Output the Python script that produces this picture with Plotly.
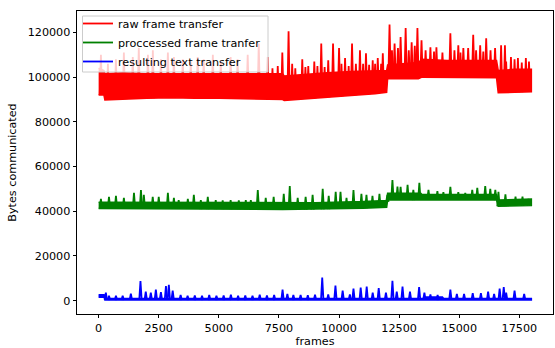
import numpy as np
import plotly.graph_objects as go

# ---------------- data ----------------
# raw frame transfer: band envelope (frames -> bytes) and spikes
red_env_x = [0, 220, 260, 1000, 2000, 3000, 4000, 5000, 6000, 7000, 7650, 7720, 8500, 9500,
             10500, 11500, 11980, 12020, 12600, 13300, 13450, 14500, 15500, 16550, 16620, 17300, 17999]
red_low = [92000, 92000, 89800, 90200, 90500, 90800, 90600, 90500, 90300, 90200, 90000, 89600, 90200, 91000,
           91800, 92600, 93200, 99300, 99300, 99300, 100000, 99800, 99700, 99700, 93000, 93200, 93400]
red_high = [104000, 103000, 101500, 102000, 101500, 101500, 101200, 101200, 101300, 101500, 101500, 100500, 101200, 102000,
            102500, 103000, 103000, 105500, 106000, 106500, 108000, 107500, 107500, 107500, 103000, 103500, 103500]
red_spike_x = [95, 386, 718, 1050, 1420, 1670, 2050, 2255, 2590, 2880, 3130, 3500, 3830, 4120, 4370, 4750,
               5080, 5490, 5780, 6200, 6660, 7030,
               7230, 7450, 7640, 7900, 8050, 8180, 8470, 8600, 8720, 8970, 9100, 9260, 9400, 9550, 9750, 10000,
               10100, 10250, 10400, 10540, 10700, 10870, 11000, 11120, 11250, 11400, 11500, 11610, 11750, 11820,
               12100, 12200, 12310, 12450, 12560, 12770, 12900, 13020, 13150, 13260, 13430, 13600, 13800, 13950,
               14050, 14300, 14630, 14800, 14960, 15050, 15170, 15370, 15580, 15700, 15870, 16000, 16120, 16300,
               16490, 16740, 16900, 16950, 17150, 17300, 17440, 17600, 17770, 17900]
red_spike_y = [110000, 106000, 108000, 111000, 109000, 113000, 110000, 112000, 108000, 111000, 109000, 108000,
               107000, 109000, 108000, 110000, 107000, 109000, 108000, 110000, 115000, 109000,
               104000, 105000, 111000, 120500, 106000, 104000, 108000, 104500, 105000, 107000, 105000, 115000,
               104500, 107600, 115000, 113000, 106000, 108500, 105000, 115000, 106000, 112000, 106000, 110700,
               105500, 107600, 106000, 108500, 106000, 110700,
               123500, 112000, 115000, 113000, 118000, 122000, 112000, 115600, 114000, 122000, 116500, 112000,
               113400, 111500, 113400, 111000, 119600, 112000, 114300, 111000, 113000, 113000, 119000, 112000,
               114300, 111500, 117400, 112000, 113000, 114300, 114300, 107000, 109000, 108000, 108500, 106500,
               108500, 107000]

# proccessed frame tranfer
green_env_x = [0, 7650, 7720, 9000, 11000, 11980, 12020, 13400, 13450, 16550, 16620, 17999]
green_low = [41200, 40800, 40600, 40800, 41300, 41800, 45000, 45000, 45300, 45000, 42200, 42500]
green_high = [44000, 43800, 43600, 43800, 44300, 44800, 48000, 48000, 47500, 47500, 45000, 45500]
green_spike_x = [95, 430, 720, 1050, 1470, 1760, 1880, 2250, 2500, 2880, 3130, 3330, 3710, 3960, 4250, 4540,
                 4870, 5160, 5490, 5830, 6120, 6330, 6620, 6950, 7280, 7700, 7950, 8280, 8610, 8900, 9320,
                 9570, 9860, 10060, 10310, 10600, 10930, 11140, 11390, 11680, 12010, 12220, 12430, 12560,
                 12850, 13090, 13340, 13720, 14090, 14340, 14630, 14960, 15250, 15540, 15750, 16080, 16290,
                 16500, 16630, 16920, 17340, 17630, 17880]
green_spike_y = [45500, 46400, 46900, 46000, 48200, 49500, 47300, 46400, 46400, 48200, 46000, 45000, 45500,
                 47300, 45000, 46400, 45000, 44800, 45000, 44800, 45000, 45000, 49500, 46000, 46400, 47800,
                 51300, 46000, 46400, 47300, 50000, 46900, 48700, 48700, 46000, 49500, 47800, 47300, 46900,
                 47800, 47300, 54000, 51000, 50900, 51800, 49500, 52700, 49500, 49000, 48500, 50900, 48500,
                 48200, 49500, 50500, 51300, 50000, 49500, 48700, 47500, 46500, 46500, 45500]

# resulting text transfer
blue_env_x = [0, 230, 260, 13500, 13550, 14300, 14350, 17999]
blue_low = [1500, 1500, 300, 300, 300, 300, 300, 300]
blue_high = [2600, 2600, 900, 900, 1600, 1600, 900, 900]
blue_spike_x = [300, 430, 720, 1000, 1340, 1740, 1960, 2170, 2380, 2590, 2800, 2920, 3080, 3410, 3700, 4000,
                4300, 4600, 4900, 5200, 5500, 5800, 6100, 6400, 6700, 7000, 7300, 7650, 7850, 8100, 8400,
                8700, 9000, 9300, 9550, 9850, 10150, 10450, 10600, 10900, 11150, 11400, 11650, 11950, 12220,
                12400, 12640, 12950, 13330, 13550, 13800, 14100, 14630, 14900, 15200, 15560, 15900, 16200,
                16450, 16680, 16850, 16950, 17300, 17700]
blue_spike_y = [3600, 2200, 2200, 2200, 3100, 8700, 4000, 3500, 4900, 3800, 6500, 7100, 4500, 2500, 2200, 2300,
                2200, 2500, 2200, 2300, 2600, 2200, 2300, 2200, 2600, 2300, 2500, 4900, 3000, 2500, 2500,
                2400, 2600, 10300, 2700, 6700, 4500, 2800, 5400, 5800, 6300, 3500, 5600, 3500, 8900,
                4000, 6300, 4000, 6000, 3500, 2800, 2500, 4900, 3000, 3000, 3300, 3300, 4000,
                3000, 5400, 6000, 3500, 4500, 3000]

series = [
    ("raw frame transfer", "#ff0000", red_env_x, red_low, red_high, red_spike_x, red_spike_y),
    ("proccessed frame tranfer", "#008000", green_env_x, green_low, green_high, green_spike_x, green_spike_y),
    ("resulting text transfer", "#0000ff", blue_env_x, blue_low, blue_high, blue_spike_x, blue_spike_y),
]

x_ticks = [0, 2500, 5000, 7500, 10000, 12500, 15000, 17500]
y_ticks = [0, 20000, 40000, 60000, 80000, 100000, 120000]

FONT = "DejaVu Sans"
FS = 11.2

# plot area geometry in pixels
W, H = 555, 348
ML, MR, MT, MB = 77, 2, 11, 34
PW, PH = W - ML - MR, H - MT - MB


def px2paper_x(px):
    return (px - ML) / PW


def py2paper_y(py):
    return 1 - (py - MT) / PH


fig = go.Figure()
for name, color, ex, lo, hi, sx, sy in series:
    # dense band drawn as filled envelope
    fig.add_trace(go.Scatter(
        x=list(ex) + list(ex)[::-1], y=list(hi) + list(lo)[::-1],
        mode="lines", fill="toself", fillcolor=color,
        line=dict(color=color, width=1.5), showlegend=False, hoverinfo="skip",
        legendgroup=name))
    # spikes
    xs, ys = [], []
    for f, v in zip(sx, sy):
        b = float(np.interp(f, ex, lo))
        xs += [f - 50, f, f + 50, None]
        ys += [b, v, b, None]
    fig.add_trace(go.Scatter(x=xs, y=ys, mode="lines", name=name,
                             line=dict(color=color, width=1.8), legendgroup=name))

axis_common = dict(showgrid=False, zeroline=False, showline=True, linecolor="black", linewidth=0.8,
                   mirror=True, ticks="outside", ticklen=3.5, tickwidth=0.8, tickcolor="black",
                   tickfont=dict(family=FONT, size=FS, color="black"))

fig.update_xaxes(range=[-900, 18899], tickvals=x_ticks, ticktext=[str(v) for v in x_ticks],
                 title=dict(text="frames", font=dict(family=FONT, size=FS, color="black"), standoff=3),
                 **axis_common)
fig.update_yaxes(range=[-6000, 129600], tickvals=y_ticks, ticktext=[str(v) for v in y_ticks],
                 title=dict(text="Bytes communicated", font=dict(family=FONT, size=FS, color="black"), standoff=8),
                 **axis_common)

# matplotlib-like legend frame
fig.add_shape(type="rect", xref="paper", yref="paper",
              x0=px2paper_x(82.5), x1=px2paper_x(268), y0=py2paper_y(72), y1=py2paper_y(16),
              fillcolor="rgba(255,255,255,0.8)", line=dict(color="#cccccc", width=1), layer="above")

fig.update_layout(
    width=W, height=H,
    margin=dict(l=ML, r=MR, t=MT, b=MB),
    paper_bgcolor="white", plot_bgcolor="white",
    font=dict(family=FONT, size=FS, color="black"),
    showlegend=True,
    legend=dict(x=px2paper_x(78), y=py2paper_y(9), xanchor="left", yanchor="top",
                bgcolor="rgba(0,0,0,0)", borderwidth=0,
                font=dict(family=FONT, size=FS, color="black"), itemwidth=30, tracegroupgap=0),
)

fig.write_html("out.html")
